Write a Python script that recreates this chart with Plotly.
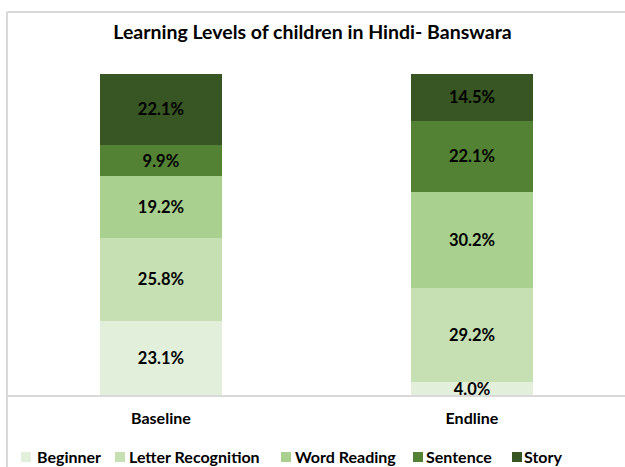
import plotly.graph_objects as go

# learning levels, % of children
rounds = ["Baseline", "Endline"]
levels = ["Beginner", "Letter Recognition", "Word Reading", "Sentence", "Story"]
beginner = [23.1, 4.0]
letter_recognition = [25.8, 29.2]
word_reading = [19.2, 30.2]
sentence = [9.9, 22.1]
story = [22.1, 14.5]

series = [beginner, letter_recognition, word_reading, sentence, story]
colors = ["#e2efda", "#c6e0b4", "#a9d08e", "#548235", "#375623"]

font = "Lato, 'Open Sans', sans-serif"

W, H = 625, 467
L, R, T, B = 6, 0, 60, 72


def px_x(px):
    return (px - L) / (W - L - R)


def px_y(py):
    return (H - B - py) / (H - T - B)


fig = go.Figure()
for name, vals, col in zip(levels, series, colors):
    fig.add_trace(go.Bar(
        x=rounds, y=vals, name=name,
        marker=dict(color=col, line=dict(width=0)),
        width=0.392,
        texttemplate="%{y:.1f}%",
        textposition="inside",
        insidetextanchor="middle",
        constraintext="none",
        textfont=dict(family=font, size=16.5, color="#000000", weight="bold"),
        cliponaxis=False,
        showlegend=False,
    ))

# outer chart border (left and top visible)
border = dict(color="#d9d9d9", width=2)
fig.add_shape(type="line", xref="paper", yref="paper", x0=px_x(7), x1=px_x(7),
              y0=px_y(470), y1=px_y(12), line=border)
fig.add_shape(type="line", xref="paper", yref="paper", x0=px_x(7), x1=px_x(630),
              y0=px_y(12), y1=px_y(12), line=border)

# legend drawn by hand to keep Excel's tight spacing
sq_left = [21, 115, 281, 413, 512]
txt_left = [35, 127, 293, 424, 522]
for name, col, sx, tx in zip(levels, colors, sq_left, txt_left):
    fig.add_shape(type="rect", xref="paper", yref="paper",
                  x0=px_x(sx), x1=px_x(sx + 10), y0=px_y(462), y1=px_y(452),
                  fillcolor=col, line=dict(width=0))
    fig.add_annotation(text="<b>" + name + "</b>", xref="paper", yref="paper",
                       x=px_x(tx), y=px_y(457), xanchor="left", yanchor="middle",
                       showarrow=False,
                       font=dict(family=font, size=16, color="#000000"))

fig.update_layout(
    width=W, height=H,
    barmode="stack",
    plot_bgcolor="white", paper_bgcolor="white",
    margin=dict(l=L, r=R, t=T, b=B),
    title=dict(text="<b>Learning Levels of children in Hindi- Banswara</b>",
               x=0.5, xanchor="center", y=1 - 32 / H, yanchor="middle",
               font=dict(family=font, size=19.5, color="#000000")),
    xaxis=dict(range=[-0.498, 1.492], showline=True, linecolor="#d9d9d9", linewidth=2,
               ticks="", showgrid=False, ticklabelstandoff=8,
               tickfont=dict(family=font, size=16, color="#000000", weight="bold")),
    yaxis=dict(range=[0, 104.4], visible=False, showgrid=False),
    showlegend=False,
)

fig.write_html("out.html", config={"displayModeBar": False},
               post_script="document.body.style.margin='0';")
